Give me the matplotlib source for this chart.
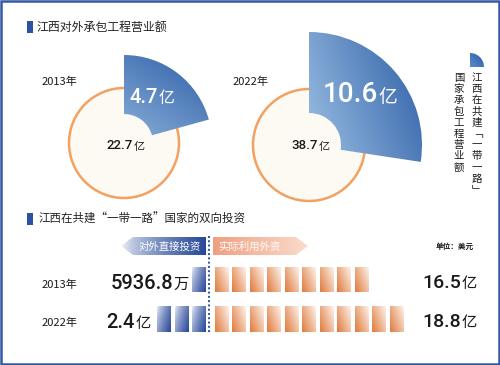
import numpy as np
import matplotlib
matplotlib.use('Agg')
import matplotlib.pyplot as plt
from matplotlib.patches import Circle, Wedge, Rectangle, Polygon
from matplotlib.colors import to_rgb

plt.rcParams['font.family'] = ['Noto Sans CJK SC', 'DejaVu Sans']

# ---------------- data ----------------
title_top = '江西对外承包工程营业额'
title_bottom = '江西在共建“一带一路”国家的双向投资'
legend_col1 = '江西在共建﹁一带一路﹂'
legend_col2 = '国家承包工程营业额'
years = ['2013年', '2022年']
contract_total = [22.7, 38.7]      # 亿美元
contract_brl = [4.7, 10.6]         # 亿美元
contract_total_txt = ['22.7', '38.7']
contract_brl_txt = ['4.7', '10.6']
ofdi_txt = ['5936.8', '2.4']
ofdi_unit = ['万', '亿']
ofdi_blocks = [1, 3]
fdi_txt = ['16.5', '18.8']
fdi_blocks = [9, 11]
banner_left = '对外直接投资'
banner_right = '实际利用外资'
unit_note = '单位：美元'

# ---------------- style ----------------
BLUE = '#2c51a0'
DARK = '#1a1a1a'
NUMFONT = ['Roboto', 'Noto Sans CJK SC', 'DejaVu Sans']
fig = plt.figure(figsize=(5.0, 3.65), dpi=100)
ax = fig.add_axes([0, 0, 1, 1])
ax.set_xlim(0, 500)
ax.set_ylim(365, 0)
ax.axis('off')


def grad_fill(patch, x0, x1, y0, y1, c0, c1, wx, wy, z, n=160, gamma=1.0):
    xs = np.linspace(0, 1, n)
    X, Y = np.meshgrid(xs, xs)
    t = wx * X + wy * Y
    t = (t - t.min()) / (t.max() - t.min())
    t = t ** gamma
    a = np.array(to_rgb(c0))
    b = np.array(to_rgb(c1))
    img = a[None, None, :] * (1 - t[..., None]) + b[None, None, :] * t[..., None]
    im = ax.imshow(img, extent=[x0, x1, y1, y0], origin='upper', aspect='auto',
                   zorder=z, interpolation='bilinear')
    im.set_clip_path(patch)


def num_unit(xr, yb, num, unit, size, usize, color):
    t = ax.text(xr, yb, num, ha='right', va='baseline', fontsize=size,
                color=color, zorder=10, family=NUMFONT, fontweight='medium')
    ax.annotate(unit, xy=(1, 0), xycoords=t, xytext=(0.6, 0.3),
                textcoords='offset points', ha='left', va='bottom',
                fontsize=usize, color=color, zorder=10)


# frame
ax.add_patch(Rectangle((1, 1), 498, 363, fill=False, ec='#3558a6', lw=1.8, zorder=20))

# titles
ax.add_patch(Rectangle((27, 21), 6, 12, fc=BLUE, ec='none'))
ax.text(37, 27.5, title_top, ha='left', va='center', fontsize=8.6, color='#222222')
ax.add_patch(Rectangle((27, 213), 6, 12, fc=BLUE, ec='none'))
ax.text(39, 219.5, title_bottom, ha='left', va='center', fontsize=8.3, color='#222222')

# ---------------- donuts ----------------
centers = [(124, 143), (309, 145)]
r_circle = [55, 56]
r_out = [88, 113]
r_in = [29, 32]
grad_dirs = [(-0.45, 1.0), (-1.0, 0.55)]
year_pos = [(42, 82), (233, 82)]
brl_num_pos = [(158, 103), (378, 102)]
brl_sizes = [(14.5, 11.5), (20, 13.5)]
tot_num_pos = [(133, 149), (318, 149)]

for i in range(2):
    cx, cy = centers[i]
    ax.add_patch(Circle((cx, cy), r_circle[i], fc='#fdf9f3', ec='#f3a160', lw=1.8, zorder=2))
    span = contract_brl[i] / contract_total[i] * 360.0
    w = Wedge((cx, cy), r_out[i], -90, -90 + span, width=r_out[i] - r_in[i],
              fc='none', ec='none', zorder=3)
    ax.add_patch(w)
    grad_fill(w, cx - 2, cx + r_out[i] + 2, cy - r_out[i] - 2, cy + r_out[i] * 0.5,
              '#2a5ba4', '#a9cbeb', grad_dirs[i][0], grad_dirs[i][1], 3)
    ax.text(year_pos[i][0], year_pos[i][1], years[i], ha='left', va='center',
            fontsize=8, color=DARK, fontweight='medium')
    num_unit(brl_num_pos[i][0], brl_num_pos[i][1], contract_brl_txt[i], '亿',
             brl_sizes[i][0], brl_sizes[i][1], 'white')
    num_unit(tot_num_pos[i][0], tot_num_pos[i][1], contract_total_txt[i], '亿',
             9.5, 8, DARK)

# legend icon and vertical text
icon = Wedge((470, 67), 14, -90, 0, fc='none', ec='none', zorder=3)
ax.add_patch(icon)
grad_fill(icon, 470, 484, 53, 67, '#2a5ba4', '#5b8ccc', -1, 1, 3)
for k, ch in enumerate(legend_col1):
    ax.text(477, 78 + k * 11.2, ch, ha='center', va='center', fontsize=7.5, color=DARK)
for k, ch in enumerate(legend_col2):
    ax.text(459, 78 + k * 11.2, ch, ha='center', va='center', fontsize=7.5, color=DARK)

# ---------------- bottom: two-way investment ----------------
lb = Polygon([(121, 246), (133, 237), (206, 237), (206, 255), (133, 255)],
             closed=True, fc='none', ec='none', zorder=3)
ax.add_patch(lb)
grad_fill(lb, 121, 206, 237, 255, '#ffffff', '#28499a', 1, 0, 3, gamma=0.6)
ax.text(170, 246.5, banner_left, ha='center', va='center', fontsize=7.5,
        color='white', zorder=5)
rb = Polygon([(213, 237), (296, 237), (308, 246), (296, 255), (213, 255)],
             closed=True, fc='none', ec='none', zorder=3)
ax.add_patch(rb)
grad_fill(rb, 213, 308, 237, 255, '#f09f80', '#fadccd', 1, 0, 3)
ax.text(249, 246.5, banner_right, ha='center', va='center', fontsize=7.5,
        color='white', zorder=5)
ax.plot([209, 209], [236, 334], color=BLUE, lw=1.4, ls=(0, (1, 1.2)), zorder=4)
ax.text(455, 246.5, unit_note, ha='center', va='center', fontsize=5.5,
        color=DARK, fontweight='bold')

row_y = [(267, 292), (306, 332)]
year_row_y = [285, 323]
ofdi_pos = [(173, 289), (135, 328)]
fdi_pos = [(461, 288), (461, 327)]
step = 17.45
bw = 14
for i in range(2):
    y0, y1 = row_y[i]
    for k in range(ofdi_blocks[i]):
        xr = 206 - k * step
        r = Rectangle((xr - bw, y0), bw, y1 - y0, fc='none', ec='none', zorder=3)
        ax.add_patch(r)
        grad_fill(r, xr - bw, xr, y0, y1, '#f2f5fb', '#27479a', 0.65, 0.35, 3,
                  n=40, gamma=0.7)
    for k in range(fdi_blocks[i]):
        xl = 215 + k * step
        r = Rectangle((xl, y0), bw, y1 - y0, fc='none', ec='none', zorder=3)
        ax.add_patch(r)
        grad_fill(r, xl, xl + bw, y0, y1, '#fdf3ec', '#e07a3c', -0.6, 0.4, 3, n=40)
    ax.text(42, year_row_y[i], years[i], ha='left', va='center', fontsize=8,
            color=DARK, fontweight='medium')
    num_unit(ofdi_pos[i][0], ofdi_pos[i][1], ofdi_txt[i], ofdi_unit[i], 14.5, 11, DARK)
    num_unit(fdi_pos[i][0], fdi_pos[i][1], fdi_txt[i], '亿', 14, 11, DARK)

fig.savefig('out.png', dpi=100, facecolor='white')
